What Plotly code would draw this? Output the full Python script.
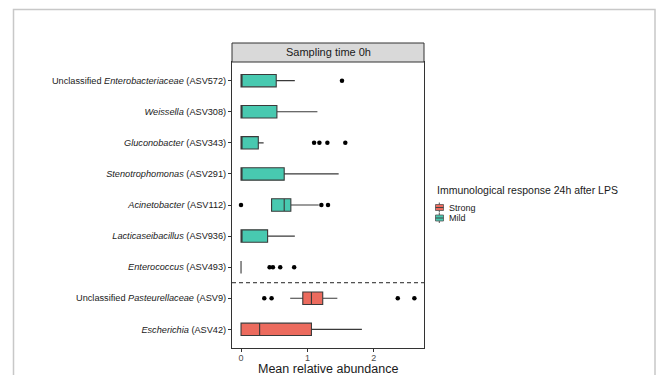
import plotly.graph_objects as go

# ---- data ----
categories = [
    ("Unclassified ", "Enterobacteriaceae", " (ASV572)"),
    ("", "Weissella", " (ASV308)"),
    ("", "Gluconobacter", " (ASV343)"),
    ("", "Stenotrophomonas", " (ASV291)"),
    ("", "Acinetobacter", " (ASV112)"),
    ("", "Lacticaseibacillus", " (ASV936)"),
    ("", "Enterococcus", " (ASV493)"),
    ("Unclassified ", "Pasteurellaceae", " (ASV9)"),
    ("", "Escherichia", " (ASV42)"),
]
cat_ids = ["ASV572", "ASV308", "ASV343", "ASV291", "ASV112", "ASV936", "ASV493", "ASV9", "ASV42"]
group = ["Mild", "Mild", "Mild", "Mild", "Mild", "Mild", "Mild", "Strong", "Strong"]

q1 = [0.0, 0.0, 0.0, 0.0, 0.46, 0.0, 0.0, 0.93, 0.0]
median = [0.0, 0.0, 0.0, 0.0, 0.65, 0.0, 0.0, 1.06, 0.28]
q3 = [0.53, 0.54, 0.26, 0.65, 0.75, 0.40, 0.0, 1.23, 1.06]
lower = [0.0, 0.0, 0.0, 0.0, 0.46, 0.0, 0.0, 0.74, 0.0]
upper = [0.81, 1.15, 0.34, 1.47, 1.17, 0.81, 0.0, 1.45, 1.82]
outliers = [
    [1.52],
    [],
    [1.10, 1.18, 1.30, 1.57],
    [],
    [0.0, 1.21, 1.31],
    [],
    [0.43, 0.48, 0.59, 0.80],
    [0.35, 0.46, 2.36, 2.61],
    [],
]
x_ticks = [0, 1, 2]
legend_order = ["Strong", "Mild"]
colors = {"Strong": "#EC6B5E", "Mild": "#48C9B0"}

# ---- layout geometry (pixels) ----
W, H = 656, 375
L, R, T, B = 232, 232, 62, 27
pw, ph = W - L - R, H - T - B

def px(x):
    return (x - L) / pw

def py(y):
    return 1 - (y - T) / ph

ticktext = [f"{a}<i>{b}</i>{c}" for a, b, c in categories]

fig = go.Figure()
for g in legend_order:
    idx = [i for i, gg in enumerate(group) if gg == g]
    fig.add_trace(go.Box(
        name=g,
        y=[cat_ids[i] for i in idx],
        q1=[q1[i] for i in idx],
        median=[median[i] for i in idx],
        q3=[q3[i] for i in idx],
        lowerfence=[lower[i] for i in idx],
        upperfence=[upper[i] for i in idx],
        orientation="h",
        fillcolor=colors[g],
        line=dict(color="#3a3a3a", width=1.1),
        whiskerwidth=0,
        width=0.4,
        boxpoints=False,
        hoverinfo="skip",
        showlegend=False,
    ))

ox, oy = [], []
for i, vals in enumerate(outliers):
    for v in vals:
        ox.append(v)
        oy.append(cat_ids[i])
fig.add_trace(go.Scatter(x=ox, y=oy, mode="markers", showlegend=False,
                         marker=dict(color="black", size=4.5), hoverinfo="skip"))

n_mild = group.count("Mild")
shapes = [
    # dashed separator
    dict(type="line", xref="paper", x0=0, x1=1, yref="y", y0=n_mild - 0.5, y1=n_mild - 0.5,
         line=dict(color="#222", width=1, dash="4px,3px")),
    # strip
    dict(type="rect", xref="paper", yref="paper", x0=0, x1=1, y0=1, y1=py(43),
         fillcolor="#D9D9D9", line=dict(color="#333", width=1)),
    # outer frame
    dict(type="rect", xref="paper", yref="paper", x0=px(13.5), x1=px(655), y0=py(9.5), y1=py(380),
         fillcolor="rgba(0,0,0,0)", line=dict(color="#C8C8C8", width=1.5)),
]

annotations = [dict(text="Sampling time 0h", xref="paper", yref="paper", x=0.5,
                    y=(1 + py(43)) / 2, showarrow=False, xanchor="center", yanchor="middle",
                    font=dict(size=11, color="#1a1a1a"))]

# x-axis title
annotations.append(dict(text="Mean relative abundance", xref="paper", yref="paper", x=0.5,
                        y=py(368.5), xanchor="center", yanchor="middle", showarrow=False,
                        font=dict(size=12.5, color="#1a1a1a")))

# ---- custom legend (ggplot-style) ----
annotations.append(dict(text="Immunological response 24h after LPS", xref="paper", yref="paper",
                        x=px(435), y=py(190), xanchor="left", yanchor="middle", showarrow=False,
                        font=dict(size=10.5, color="#1a1a1a")))
for k, g in enumerate(legend_order):
    cy = 207.5 + k * 10.5
    shapes.append(dict(type="line", xref="paper", yref="paper", x0=px(439.3), x1=px(439.3),
                       y0=py(cy - 5), y1=py(cy + 5), line=dict(color="#555", width=1)))
    shapes.append(dict(type="rect", xref="paper", yref="paper", x0=px(435.5), x1=px(443.5),
                       y0=py(cy - 3), y1=py(cy + 3), fillcolor=colors[g],
                       line=dict(color="#555", width=0.8)))
    shapes.append(dict(type="line", xref="paper", yref="paper", x0=px(435.5), x1=px(443.5),
                       y0=py(cy), y1=py(cy), line=dict(color="#444", width=1)))
    annotations.append(dict(text=g, xref="paper", yref="paper", x=px(446.5), y=py(cy),
                            xanchor="left", yanchor="middle", showarrow=False,
                            font=dict(size=9, color="#1a1a1a")))

fig.update_layout(
    width=W, height=H,
    margin=dict(l=L, r=R, t=T, b=B, autoexpand=False),
    paper_bgcolor="white", plot_bgcolor="white",
    font=dict(family="Liberation Sans, Arial, sans-serif", color="#1a1a1a"),
    boxmode="overlay",
    shapes=shapes,
    annotations=annotations,
    showlegend=False,
)
fig.update_xaxes(
    range=[-0.136, 2.755], tickvals=x_ticks, ticktext=[str(t) for t in x_ticks],
    showgrid=False, zeroline=False, showline=True, mirror=True, linecolor="#333", linewidth=1,
    ticks="outside", ticklen=3, tickcolor="#333", tickfont=dict(size=9, color="#4d4d4d"),
    ticklabelstandoff=-2,
)
fig.update_yaxes(
    type="category", categoryorder="array", categoryarray=cat_ids,
    tickvals=cat_ids, ticktext=ticktext, range=[len(cat_ids) - 0.4, -0.6],
    showgrid=False, zeroline=False, showline=True, mirror=True, linecolor="#333", linewidth=1,
    ticks="outside", ticklen=3, tickcolor="#333", tickfont=dict(size=9.2, color="#1a1a1a"),
)

fig.write_html("out.html", config={"displayModeBar": False},
               post_script="document.body.style.margin='0';document.body.style.overflow='hidden';")
